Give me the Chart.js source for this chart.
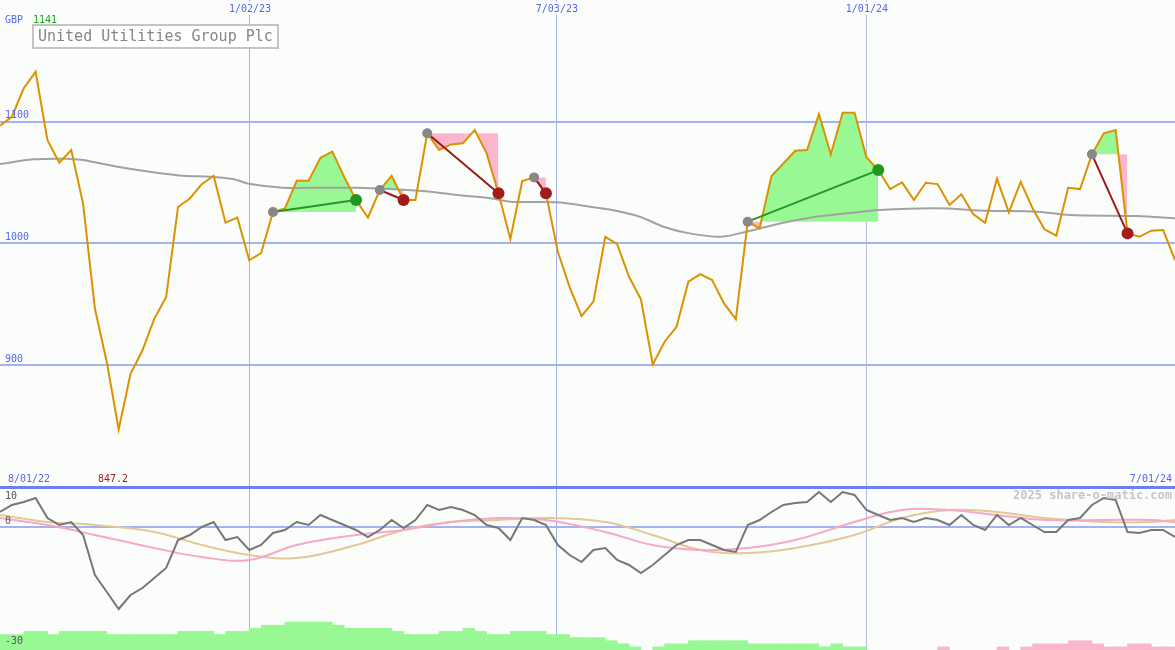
<!DOCTYPE html>
<html>
<head>
<meta charset="utf-8">
<script src="https://cdn.jsdelivr.net/npm/chart.js@4/dist/chart.umd.min.js"></script>
<style>
  html, body { margin: 0; padding: 0; background: #fbfdfb; }
  #wrap { position: relative; width: 1175px; height: 650px; overflow: hidden; }
  #top { position: absolute; left: 0; top: 0; }
  #bot { position: absolute; left: 0; top: 486px; }
</style>
</head>
<body>
<div id="wrap">
  <canvas id="top" width="1175" height="486"></canvas>
  <canvas id="bot" width="1175" height="164"></canvas>
</div>
<script>
// weekly closes, week 0 = 8/01/22
const price = [
  1096.7, 1104.1, 1127.5, 1141, 1084.9, 1066.3, 1076.7, 1032.8, 946.4, 902.5,
  847.2, 892.9, 912.1, 938.2, 956, 1030, 1037, 1048.7, 1055.6, 1017.2,
  1021.3, 986.2, 992.2, 1025.9, 1028.7, 1051.5, 1051.5, 1070.4, 1075.4, 1054.6,
  1035.7, 1021.2, 1043.9, 1055.6, 1035.7, 1035.7, 1090.5, 1076.8, 1081.4, 1082.3,
  1093.2, 1074, 1041.2, 1003.7, 1051.3, 1054.3, 1041.2, 993.2, 964, 940.4,
  952.2, 1005.5, 999.5, 972.7, 954.1, 900.7, 919.3, 931.6, 968.6, 974.9,
  970, 950.8, 937.9, 1017.9, 1012.4, 1055.4, 1065.7, 1076.2, 1076.8, 1106.3,
  1073.2, 1107.4, 1107.4, 1070.8, 1060.3, 1044.7, 1050.2, 1035.7, 1049.9, 1048.8,
  1031.6, 1040.4, 1024.2, 1017, 1053.2, 1025.6, 1050.7, 1028.9, 1011.6, 1006.4,
  1045.8, 1044.7, 1073.2, 1090.5, 1093.2, 1008.3, 1005.5, 1010.5, 1011, 986.4
];

// moving average, read at a few weeks
const maWeeks  = [0, 2.8, 5.6, 7, 9.9, 12.6, 15.4, 17.7, 19.6, 21.1, 23.8, 27.2, 30.1, 32.9, 35.6, 38.5, 41.3, 43, 46.9, 49.7, 51.6, 53.9, 55.9, 58.1, 60.7, 62.9, 65.7, 68.5, 71.4, 74.1, 78.9, 83.2, 87.4, 90.1, 95.8, 99];
const maValues = [1065.3, 1069.1, 1069.6, 1068.5, 1063, 1058.9, 1055.6, 1054.8, 1052.9, 1048.8, 1045.8, 1045.8, 1045.8, 1044.7, 1043.1, 1039.8, 1037.1, 1034.3, 1033.8, 1030.2, 1027.5, 1022, 1013.8, 1008.3, 1005.5, 1009.7, 1016.5, 1021.5, 1024.8, 1027.5, 1028.9, 1026.9, 1026.1, 1023.4, 1022.5, 1020.7];

// trades: entry week -> exit week
const tradeEntry = [23, 32, 36, 45, 63, 92];
const tradeExit  = [30, 34, 42, 46, 74, 95];

// oscillators (lower panel)
const oscGrey = [
  3.75, 5.5, 6.25, 7.25, 2.25, 0.5, 1.25, -2, -12, -16.25,
  -20.5, -17, -15.25, -12.75, -10.25, -3.25, -2, 0, 1.25, -3.25,
  -2.5, -5.75, -4.5, -1.5, -0.75, 1.25, 0.5, 3, 1.75, 0.5,
  -0.75, -2.5, -0.75, 1.75, -0.25, 1.75, 5.5, 4.25, 5, 4.25,
  3, 0.5, -0.25, -3.25, 2.25, 1.75, 0.5, -4.5, -7, -8.75,
  -5.75, -5.25, -8.25, -9.5, -11.5, -9.5, -7, -4.5, -3.25, -3.25,
  -4.5, -5.75, -6.25, 0.5, 1.75, 3.75, 5.5, 6, 6.25, 8.75,
  6.25, 8.75, 8, 4.25, 3, 1.75, 2.25, 1.25, 2.25, 1.75,
  0.5, 3, 0.5, -0.75, 3, 0.5, 2.25, 0.5, -1.25, -1.25,
  1.75, 2.25, 5.5, 7.25, 6.75, -1.25, -1.5, -0.75, -0.75, -2.5
];
const oscWeeks = [0, 4, 8, 13, 17, 21, 25, 30, 34, 38, 42, 46, 51, 55, 59, 63, 67, 72, 76, 80, 84, 88, 93, 97, 99];
const oscPink  = [2.25, 0.5, -2, -5.25, -7.5, -8.25, -4.5, -2, -0.75, 1.25, 2.25, 1.75, -1.25, -4.5, -5.75, -5.25, -3.25, 1.25, 4.25, 4.25, 3, 1.75, 1.75, 1.75, 1.25];
const oscTan   = [3, 1.25, 0.5, -1.25, -4.5, -7, -7.75, -4.5, -0.75, 1.25, 1.75, 2.25, 1.25, -2, -5.75, -6.5, -5.25, -2, 2.25, 4.25, 3.75, 2.25, 1.25, 1.25, 1.75];

// weekly histogram level: + green, - pink
const histLevels = [
  5, 5, 6, 6, 5, 6, 6, 6, 6, 5,
  5, 5, 5, 5, 5, 6, 6, 6, 5, 6,
  6, 7, 8, 8, 9, 9, 9, 9, 8, 7,
  7, 7, 7, 6, 5, 5, 5, 6, 6, 7,
  6, 5, 5, 6, 6, 6, 5, 5, 4, 4,
  4, 3, 2, 1, 0, 1, 2, 2, 3, 3,
  3, 3, 3, 2, 2, 2, 2, 2, 2, 1,
  2, 1, 1, 0, 0, 0, 0, 0, 0, -1,
  0, 0, 0, 0, -1, 0, -1, -2, -2, -2,
  -3, -3, -2, -1, -1, -2, -2, -1, -1
];

const dateWeeks  = [21.06, 46.92, 73.04];
const dateLabels = ['1/02/23', '7/03/23', '1/01/24'];
const rangeLabels = ['8/01/22', '7/01/24'];
const priceTicks = [900, 1000, 1100];
const oscTicks = [10, 0, -30];
const title = 'United Utilities Group Plc';

const BG = '#fbfdfb';
const BLUE = '#5566ee';
const GRID = '#a4b2f2';
const MONO = '"DejaVu Sans Mono", "Liberation Mono", monospace';

const xScale = () => ({
  type: 'linear', min: 0, max: 99, offset: false,
  border: { display: false },
  grid: { color: c => c.index === 2 ? '#b6bce4' : GRID, lineWidth: 1, drawTicks: false, offset: false },
  ticks: { display: false },
  afterBuildTicks: s => { s.ticks = dateWeeks.map(v => ({ value: v })); },
  afterFit: s => { s.height = 0; }
});

// ---------- upper panel ----------
const fills = tradeEntry.map((e, t) => ({
  data: price.slice(e, tradeExit[t] + 1).map((p, j) => ({ x: e + j, y: p })),
  borderWidth: 0, pointRadius: 0, order: 10,
  fill: { target: { value: price[e] }, above: '#98f894', below: '#f9b6cc' }
}));

const tradeLines = tradeEntry.map((e, t) => {
  const x = tradeExit[t];
  const win = price[x] > price[e];
  const col = win ? '#229a22' : '#9c1a1a';
  return {
    data: [{ x: e, y: price[e] }, { x: x, y: price[x] }],
    borderColor: col, borderWidth: 2, order: 1,
    pointRadius: [5, 6], pointBorderWidth: 0,
    pointBackgroundColor: ['#888888', win ? '#22961e' : '#a21c1c']
  };
});

const topText = {
  id: 'topText',
  afterDraw(chart) {
    const ctx = chart.ctx, xs = chart.scales.x, ys = chart.scales.y;
    ctx.save();
    ctx.font = '10px ' + MONO;
    ctx.textBaseline = 'middle';
    ctx.textAlign = 'center';
    dateWeeks.forEach((w, i) => {
      const px = xs.getPixelForValue(w);
      const tw = ctx.measureText(dateLabels[i]).width;
      ctx.fillStyle = BG;
      ctx.fillRect(px - tw / 2 - 1, 2, tw + 2, 13);
      ctx.fillStyle = BLUE;
      ctx.fillText(dateLabels[i], px, 9);
    });
    ctx.textAlign = 'left';
    priceTicks.forEach(v => {
      ctx.fillStyle = BLUE;
      ctx.fillText(String(v), 5, ys.getPixelForValue(v) - 6);
    });
    ctx.fillStyle = BLUE;
    ctx.fillText('GBP', 5, 20);
    ctx.fillStyle = '#22a022';
    ctx.fillText(String(Math.round(Math.max(...price))), 33, 20);
    ctx.fillStyle = BLUE;
    ctx.fillText(rangeLabels[0], 8, 479);
    ctx.fillStyle = '#a01c1c';
    ctx.fillText(Math.min(...price).toFixed(1), 98, 479);
    ctx.fillStyle = BLUE;
    ctx.textAlign = 'right';
    ctx.fillText(rangeLabels[1], 1172, 479);

    // title box
    ctx.fillStyle = '#ffffff';
    ctx.fillRect(33, 25, 245, 23);
    ctx.strokeStyle = '#c4c4c4';
    ctx.lineWidth = 2;
    ctx.strokeRect(33, 25, 245, 23);
    ctx.font = '15px ' + MONO;
    ctx.fillStyle = '#858585';
    ctx.textAlign = 'left';
    ctx.fillText(title, 38, 37);
    ctx.restore();
  }
};

new Chart(document.getElementById('top'), {
  type: 'line',
  data: {
    datasets: [
      ...fills,
      { data: maWeeks.map((w, i) => ({ x: w, y: maValues[i] })), borderColor: '#a2a2a2', borderWidth: 2, pointRadius: 0, tension: 0.3, order: 5 },
      { data: price.map((p, i) => ({ x: i, y: p })), borderColor: '#dc9200', borderWidth: 2, pointRadius: 0, order: 3 },
      ...tradeLines
    ]
  },
  options: {
    responsive: false, animation: false, events: [],
    layout: { padding: 0, autoPadding: false },
    plugins: { legend: { display: false }, tooltip: { enabled: false } },
    scales: {
      x: xScale(),
      y: {
        min: 800.8, max: 1200,
        border: { display: false },
        grid: { color: GRID, lineWidth: 2, drawTicks: false },
        ticks: { display: false },
        afterBuildTicks: s => { s.ticks = priceTicks.map(v => ({ value: v })); },
        afterFit: s => { s.width = 0; }
      }
    }
  },
  plugins: [topText]
});

// ---------- lower panel ----------
const botText = {
  id: 'botText',
  afterDraw(chart) {
    const ctx = chart.ctx, ys = chart.scales.y;
    ctx.save();
    ctx.fillStyle = '#6f7ff0';
    ctx.fillRect(0, 0, chart.width, 3);
    ctx.font = '10px ' + MONO;
    ctx.textBaseline = 'middle';
    ctx.textAlign = 'left';
    ctx.fillStyle = '#555555';
    oscTicks.forEach(v => {
      let py = ys.getPixelForValue(v) - 6;
      if (py < 10) py = 10;
      ctx.fillText(String(v), 5, py);
    });
    ctx.font = 'bold 12px ' + MONO;
    ctx.fillStyle = '#c6c6c6';
    ctx.textAlign = 'right';
    ctx.fillText('2025 share-o-matic.com', 1172, 10);
    ctx.restore();
  }
};

new Chart(document.getElementById('bot'), {
  type: 'line',
  data: {
    datasets: [
      {
        type: 'bar', yAxisID: 'yh', order: 10,
        data: histLevels.map((v, i) => ({ x: i + 0.5, y: v === 0 ? null : Math.abs(v) })),
        backgroundColor: histLevels.map(v => v >= 0 ? '#98f894' : '#f9b6cc'),
        borderWidth: 0, barPercentage: 1, categoryPercentage: 1
      },
      { data: oscWeeks.map((w, i) => ({ x: w, y: oscTan[i] })), borderColor: '#e4c898', borderWidth: 2, pointRadius: 0, tension: 0.4, order: 4 },
      { data: oscWeeks.map((w, i) => ({ x: w, y: oscPink[i] })), borderColor: '#f6a8c6', borderWidth: 2, pointRadius: 0, tension: 0.4, order: 3 },
      { data: oscGrey.map((v, i) => ({ x: i, y: v })), borderColor: '#777777', borderWidth: 2, pointRadius: 0, order: 2 }
    ]
  },
  options: {
    responsive: false, animation: false, events: [],
    layout: { padding: 0, autoPadding: false },
    plugins: { legend: { display: false }, tooltip: { enabled: false } },
    scales: {
      x: xScale(),
      y: {
        min: -30.75, max: 10.25,
        border: { display: false },
        grid: { color: GRID, lineWidth: 2, drawTicks: false },
        ticks: { display: false },
        afterBuildTicks: s => { s.ticks = [{ value: 0 }]; },
        afterFit: s => { s.width = 0; }
      },
      yh: {
        display: false, min: 0, max: 52.9
      }
    }
  },
  plugins: [botText]
});
</script>
</body>
</html>
